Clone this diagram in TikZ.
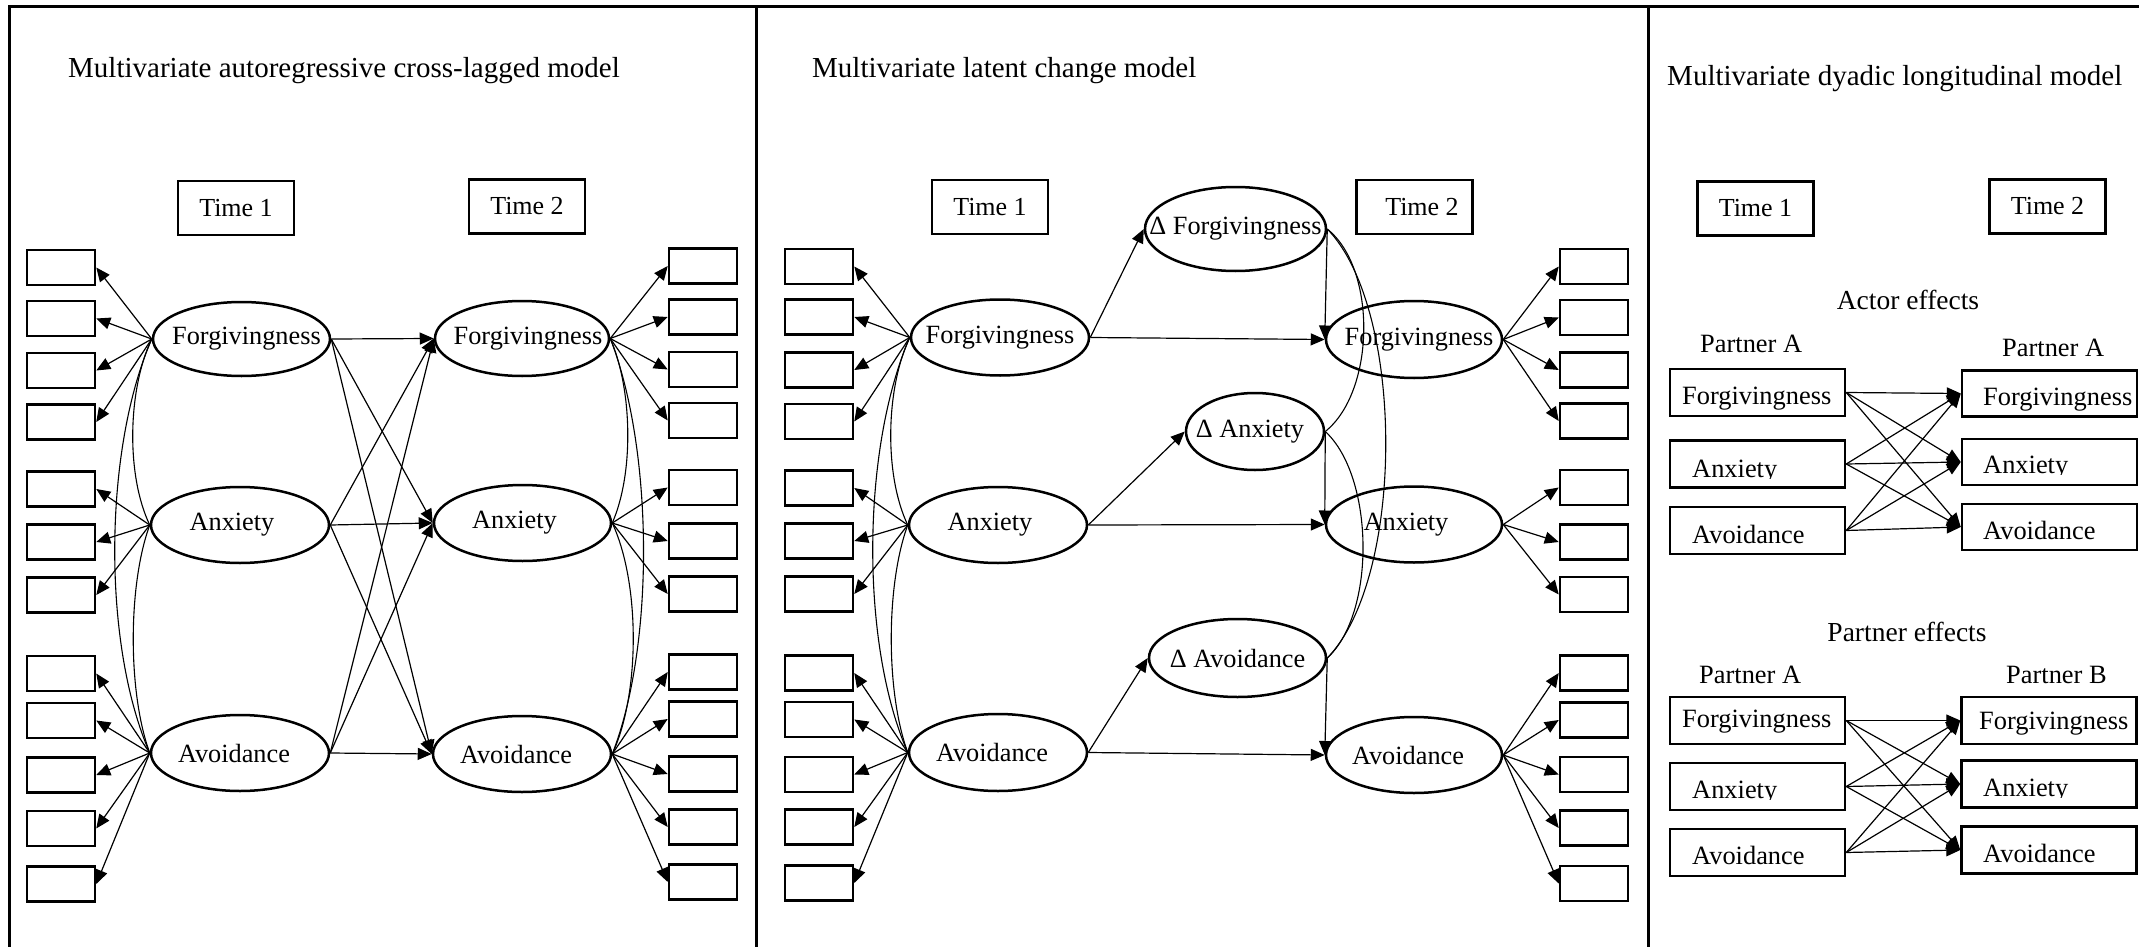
\documentclass[tikz,border=0pt]{standalone}
\usepackage{fontspec}
\setmainfont{Liberation Serif}
\usetikzlibrary{shapes.geometric,arrows.meta}
\newcommand\mylat[2]{\makebox[0pt]{\hspace*{#1}#2}}
\begin{document}
\begin{tikzpicture}[x=1pt,y=-1pt,
  ttl/.style={font=\fontsize{29}{32}\selectfont, anchor=base west, inner sep=0pt},
  txt/.style={font=\fontsize{26.4}{30}\selectfont, inner sep=0pt},
  lat/.style 2 args={draw, line width=2.5pt, ellipse, inner sep=0pt, minimum width=#1, minimum height=#2, font=\fontsize{26.3}{30}\selectfont},
  ind/.style={draw, line width=2.5pt, rectangle, minimum width=68pt, minimum height=35pt, inner sep=0pt},
  tbox/.style={draw, line width=2.5pt, rectangle, minimum width=116pt, minimum height=54pt, inner sep=0pt, font=\fontsize{26}{30}\selectfont},
  vbox/.style={draw, line width=2.5pt, rectangle, minimum width=175pt, minimum height=47pt, inner sep=0pt},
  arr/.style={line width=1.2pt, -{Triangle[length=14pt,width=12pt]}},
  cov/.style={line width=1.1pt},
  frame/.style={line width=3pt}
]
\useasboundingbox (0,0) rectangle (2139,947);

% frame
\draw[frame] (9,947) -- (9,7) -- (2139,7);
\draw[frame] (756,7) -- (756,947);
\draw[frame] (1648,7) -- (1648,947);

% ================= Panel 1 =================
\node[ttl] (t1) at (68,78) {Multivariate autoregressive cross-lagged model};
\node[tbox] (p1T1) at (236,208) {Time 1};
\node[tbox] (p1T2) at (527,206.5) {Time 2};

\node[lat={177pt}{74pt}] (F1) at (241.5,339) {\mylat{10pt}{Forgivingness}};
\node[lat={174pt}{75pt}] (F2) at (522,338.5) {\mylat{12pt}{Forgivingness}};
\node[lat={178pt}{76pt}] (A1) at (240,525) {\mylat{-16pt}{Anxiety}};
\node[lat={177pt}{76pt}] (A2) at (522.5,523) {\mylat{-16pt}{Anxiety}};
\node[lat={178pt}{76pt}] (V1) at (240,753) {\mylat{-12pt}{Avoidance}};
\node[lat={178pt}{76pt}] (V2) at (522,754) {\mylat{-12pt}{Avoidance}};

\foreach \i/\y in {1/267.5,2/318.5,3/370.5,4/422,5/489,6/542,7/595,8/673.5,9/720.5,10/775,11/828.5,12/884}
  \node[ind] (a\i) at (61,\y) {};
\foreach \i/\y in {1/266,2/317,3/369.5,4/420.5,5/487.5,6/541,7/594,8/672,9/719,10/774,11/827,12/882}
  \node[ind] (b\i) at (703,\y) {};

\foreach \i in {1,...,4} {\draw[arr] (F1.west) -- (a\i.east); \draw[arr] (F2.east) -- (b\i.west);}
\foreach \i in {5,6,7} {\draw[arr] (A1.west) -- (a\i.east); \draw[arr] (A2.east) -- (b\i.west);}
\foreach \i in {8,...,12} {\draw[arr] (V1.west) -- (a\i.east); \draw[arr] (V2.east) -- (b\i.west);}

\foreach \s in {F1,A1,V1} \foreach \t in {F2,A2,V2} \draw[arr] (\s.east) -- (\t.west);

\draw[cov] (F1.west) .. controls +(-24,50) and +(-24,-50) .. (A1.west);
\draw[cov] (A1.west) .. controls +(-22,60) and +(-22,-60) .. (V1.west);
\draw[cov] (F1.west) .. controls +(-48,110) and +(-48,-110) .. (V1.west);
\draw[cov] (F2.east) .. controls +(22,50) and +(22,-50) .. (A2.east);
\draw[cov] (A2.east) .. controls +(28,60) and +(28,-60) .. (V2.east);
\draw[cov] (F2.east) .. controls +(43,110) and +(43,-110) .. (V2.east);

% ================= Panel 2 =================
\node[ttl] (t2) at (812,78) {Multivariate latent change model};
\node[tbox] (p2T1) at (990,207) {Time 1};
\node[tbox] (p2T2) at (1414.5,207) {\hspace*{15pt}Time 2};

\node[lat={178pt}{76pt}] (G1) at (1000,337.5) {\makebox[0pt]{Forgivingness}};
\node[lat={176pt}{77pt}] (G2) at (1414,339.5) {\mylat{10pt}{Forgivingness}};
\node[lat={178pt}{76pt}] (B1) at (998,525) {\mylat{-16pt}{Anxiety}};
\node[lat={176pt}{76pt}] (B2) at (1414,524.5) {\mylat{-16pt}{Anxiety}};
\node[lat={178pt}{77pt}] (W1) at (998,752.5) {\mylat{-12pt}{Avoidance}};
\node[lat={176pt}{76pt}] (W2) at (1414,755) {\mylat{-12pt}{Avoidance}};
\node[lat={181pt}{84pt}] (dF) at (1235.5,229) {\makebox[0pt]{Δ Forgivingness}};
\node[lat={138pt}{77pt}] (dA) at (1255,431.5) {\mylat{-10pt}{Δ Anxiety}};
\node[lat={177pt}{78pt}] (dV) at (1237.5,658) {\makebox[0pt]{Δ Avoidance}};

\foreach \i/\y in {1/266.5,2/317,3/370,4/421.5,5/488,6/541,7/594,8/673,9/719.5,10/774.5,11/827,12/883}
  \node[ind] (c\i) at (819,\y) {};
\foreach \i/\y in {1/266.5,2/317.5,3/370,4/421,5/487.5,6/542,7/594.5,8/673,9/720,10/774.5,11/828,12/883.5}
  \node[ind] (d\i) at (1594,\y) {};

\foreach \i in {1,...,4} {\draw[arr] (G1.west) -- (c\i.east); \draw[arr] (G2.east) -- (d\i.west);}
\foreach \i in {5,6,7} {\draw[arr] (B1.west) -- (c\i.east); \draw[arr] (B2.east) -- (d\i.west);}
\foreach \i in {8,...,12} {\draw[arr] (W1.west) -- (c\i.east); \draw[arr] (W2.east) -- (d\i.west);}

\draw[arr] (G1.east) -- (dF.west);
\draw[arr] (G1.east) -- (G2.west);
\draw[arr] (B1.east) -- (dA.west);
\draw[arr] (B1.east) -- (B2.west);
\draw[arr] (W1.east) -- (dV.west);
\draw[arr] (W1.east) -- (W2.west);
\draw[arr] (dF.east) -- (G2.west);
\draw[arr] (dA.east) -- (B2.west);
\draw[arr] (dV.east) -- (W2.west);

\draw[cov] (G1.west) .. controls +(-24,50) and +(-24,-50) .. (B1.west);
\draw[cov] (B1.west) .. controls +(-22,60) and +(-22,-60) .. (W1.west);
\draw[cov] (G1.west) .. controls +(-48,110) and +(-48,-110) .. (W1.west);
\draw[cov] (dF.east) .. controls +(50,40) and +(50,-40) .. (dA.east);
\draw[cov] (dA.east) .. controls +(49,45) and +(49,-45) .. (dV.east);
\draw[cov] (dF.east) .. controls +(78,80) and +(78,-80) .. (dV.east);

% ================= Panel 3 =================
\node[ttl] (t3) at (1667,86) {Multivariate dyadic longitudinal model};
\node[tbox] (p3T1) at (1755.5,208.5) {Time 1};
\node[tbox] (p3T2) at (2047.5,206.5) {Time 2};

\node[txt, font=\fontsize{27.5}{30}\selectfont, anchor=base] (actor) at (1908,309) {Actor effects};
\node[txt, anchor=base west] (aPA1) at (1700,352) {Partner A};
\node[txt, anchor=base west] (aPA2) at (2002,356) {Partner A};

\node[vbox] (aLF) at (1757.5,392.5) {};
\node[vbox] (aLA) at (1757.5,464) {};
\node[vbox] (aLV) at (1757.5,530.5) {};
\node[vbox, minimum height=46pt] (aRF) at (2049.5,393.5) {};
\node[vbox, minimum height=46pt] (aRA) at (2049.5,462) {};
\node[vbox, minimum height=46pt] (aRV) at (2049.5,527) {};

\node[txt, anchor=base west] (aLFt) at (1682,404) {Forgivingness};
\begin{scope}
  \clip (1675,442) rectangle (1840,478.5);
  \node[txt, anchor=base west] (aLAt) at (1692,477) {Anxiety};
\end{scope}
\node[txt, anchor=base west] (aLVt) at (1692,543) {Avoidance};
\node[txt, anchor=base west] (aRFt) at (1983,405) {Forgivingness};
\begin{scope}
  \clip (1967,441) rectangle (2132,474.5);
  \node[txt, anchor=base west] (aRAt) at (1983,473) {Anxiety};
\end{scope}
\node[txt, anchor=base west] (aRVt) at (1983,539) {Avoidance};

\foreach \s in {aLF,aLA,aLV} \foreach \t in {aRF,aRA,aRV} \draw[arr] (\s.east) -- (\t.west);

\node[txt, font=\fontsize{27.5}{30}\selectfont, anchor=base] (partner) at (1907,641) {Partner effects};
\node[txt, anchor=base west] (pPA) at (1699,683) {Partner A};
\node[txt, anchor=base west] (pPB) at (2006,683) {Partner B};

\node[vbox] (pLF) at (1757.5,720.5) {};
\node[vbox] (pLA) at (1757.5,786.5) {};
\node[vbox] (pLV) at (1757.5,852.5) {};
\node[vbox] (pRF) at (2049,720.5) {};
\node[vbox] (pRA) at (2049,784) {};
\node[vbox] (pRV) at (2049,850) {};

\node[txt, anchor=base west] (pLFt) at (1682,727) {Forgivingness};
\begin{scope}
  \clip (1675,765) rectangle (1840,799.5);
  \node[txt, anchor=base west] (pLAt) at (1692,798) {Anxiety};
\end{scope}
\node[txt, anchor=base west] (pLVt) at (1692,864) {Avoidance};
\node[txt, anchor=base west] (pRFt) at (1979,729) {Forgivingness};
\begin{scope}
  \clip (1966,762) rectangle (2132,797.5);
  \node[txt, anchor=base west] (pRAt) at (1983,796) {Anxiety};
\end{scope}
\node[txt, anchor=base west] (pRVt) at (1983,862) {Avoidance};

\foreach \s in {pLF,pLA,pLV} \foreach \t in {pRF,pRA,pRV} \draw[arr] (\s.east) -- (\t.west);

\end{tikzpicture}
\end{document}
